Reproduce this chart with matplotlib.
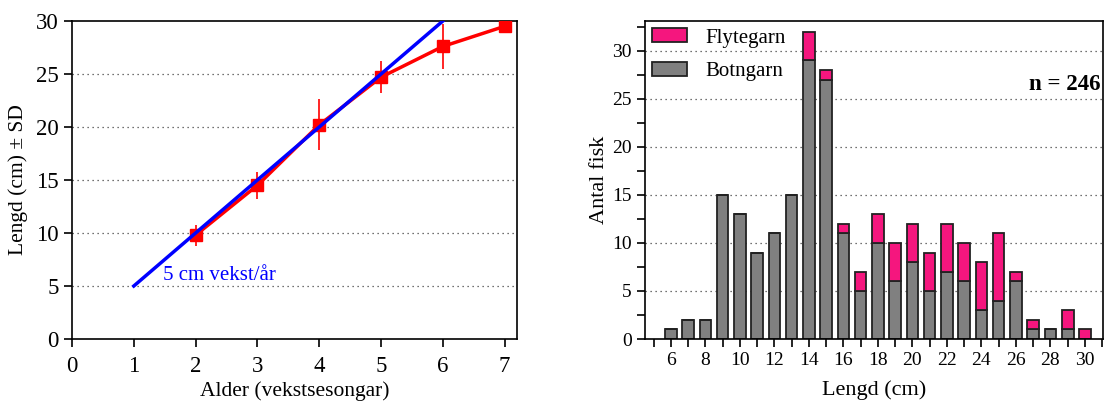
import matplotlib
matplotlib.use("Agg")
import matplotlib.pyplot as plt
import numpy as np
from matplotlib.ticker import MultipleLocator

plt.rcParams['font.family'] = ['Liberation Serif', 'DejaVu Serif']

# Left chart data
ages = [2, 3, 4, 5, 6, 7]
mean_len = [9.8, 14.5, 20.2, 24.7, 27.6, 29.5]
sd_len = [1.0, 1.3, 2.4, 1.5, 2.1, 0.0]
ref_x = [1, 6]
ref_y = [5, 30]

# Right chart data
lengths = list(range(6, 31))
botngarn = [1, 2, 2, 15, 13, 9, 11, 15, 29, 27, 11, 5, 10, 6, 8, 5, 7, 6, 3, 4, 6, 1, 1, 1, 0]
flytegarn = [0, 0, 0, 0, 0, 0, 0, 0, 3, 1, 1, 2, 3, 4, 4, 4, 5, 4, 5, 7, 1, 1, 0, 2, 1]

W, H = 1114, 404
fig = plt.figure(figsize=(W/100, H/100), dpi=100)

# ---- Left
ax1 = fig.add_axes([72/W, 65/H, (517-72)/W, (339-21)/H])
for y in [5, 10, 15, 20, 25]:
    ax1.axhline(y, color='#444444', lw=0.9, ls=(0, (1, 3)), zorder=0)
ax1.plot(ref_x, ref_y, color='#0000ff', lw=2.5, zorder=4)
ax1.errorbar(ages, mean_len, yerr=sd_len, color='#ff0000', lw=2.5, elinewidth=1.2,
             marker='s', ms=8.5, capsize=0, zorder=3)
ax1.text(1.47, 6.0, '5 cm vekst/år', color='#0000ff', fontsize=15, va='center')
ax1.set_xlim(0, 7.2)
ax1.set_ylim(0, 30)
ax1.set_xticks(range(0, 8))
ax1.set_yticks(range(0, 31, 5))
ax1.tick_params(direction='out', length=6, width=1.2, labelsize=16.5)
ax1.tick_params(axis='x', pad=6)
ax1.set_xlabel('Alder (vekstsesongar)', fontsize=15.5, labelpad=3)
ax1.set_ylabel('Lengd (cm) ± SD', fontsize=15.5, labelpad=6)
for s in ax1.spines.values():
    s.set_linewidth(1.2)

# ---- Right
ax2 = fig.add_axes([645/W, 65/H, (1103-645)/W, (339-21)/H])
for y in [5, 10, 15, 20, 25, 30]:
    ax2.axhline(y, color='#444444', lw=0.9, ls=(0, (1, 3)), zorder=0)
ax2.bar(lengths, botngarn, width=0.68, color='#808080', edgecolor='#222222', lw=1.3,
        label='Botngarn', zorder=2)
ax2.bar(lengths, flytegarn, width=0.68, bottom=botngarn, color='#f5167e',
        edgecolor='#222222', lw=1.3, label='Flytegarn', zorder=2)
ax2.set_xlim(4.5, 31.05)
ax2.set_ylim(0, 33.1)
ax2.set_xticks(range(5, 32))
ax2.set_xticklabels([str(v) if v % 2 == 0 else '' for v in range(5, 32)])
ax2.yaxis.set_major_locator(MultipleLocator(5))
ax2.yaxis.set_minor_locator(MultipleLocator(2.5))
ax2.tick_params(direction='out', length=6, width=1.2, labelsize=14)
ax2.tick_params(which='minor', direction='out', length=6, width=1.2)
ax2.set_xlabel('Lengd (cm)', fontsize=16, labelpad=8)
ax2.set_ylabel('Antal fisk', fontsize=16, labelpad=2)
for s in ax2.spines.values():
    s.set_linewidth(1.2)
h, l = ax2.get_legend_handles_labels()
ax2.legend(h[::-1], l[::-1], loc='upper left', frameon=False, fontsize=15,
           handlelength=1.65, handleheight=0.65, borderpad=0.2, borderaxespad=0.15,
           handletextpad=0.9, labelspacing=0.7)
ax2.text(0.995, 0.80, 'n = 246', transform=ax2.transAxes, ha='right', va='center',
         fontsize=16.5, fontweight='bold')

fig.savefig('out.png', dpi=100)
